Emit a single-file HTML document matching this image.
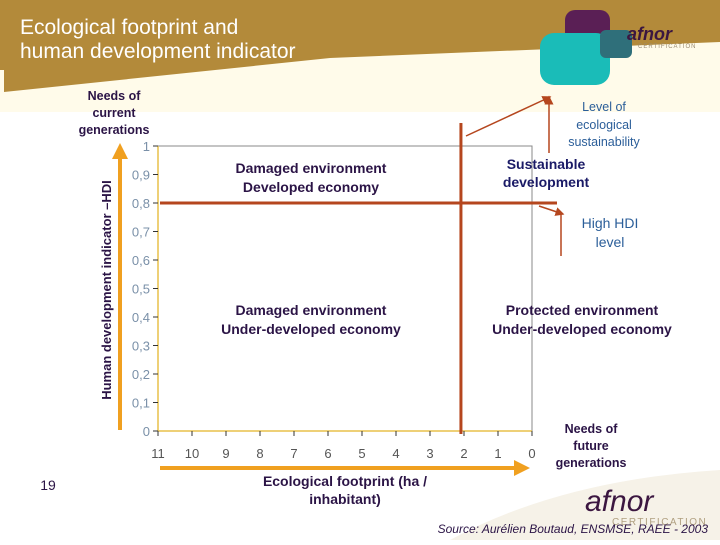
<!DOCTYPE html>
<html><head><meta charset="utf-8"><style>
body{margin:0;width:720px;height:540px;overflow:hidden;background:#fff;font-family:"Liberation Sans",sans-serif}
svg text{font-family:"Liberation Sans",sans-serif}
</style></head><body>
<svg width="720" height="540" viewBox="0 0 720 540" xmlns="http://www.w3.org/2000/svg">
<rect width="720" height="540" fill="#ffffff"/>
<rect width="720" height="112" fill="#fffbea"/>
<path d="M450 540 Q560 480 720 470 L720 540 Z" fill="#f6f2e8"/>
<path d="M0 0 H720 V42 L330 58 L4 92 L4 70 L0 70 Z" fill="#b38a3a"/>
<text x="20" y="34" font-size="21" fill="#fff">Ecological footprint and</text>
<text x="20" y="58" font-size="21" fill="#fff">human development indicator</text>
<g>
<rect x="565" y="10" width="45" height="38" rx="10" fill="#5a1f55"/>
<rect x="540" y="33" width="70" height="52" rx="14" fill="#1abcb8"/>
<rect x="600" y="30" width="32" height="28" rx="6" fill="#2f6f7a"/>
<text x="627" y="40" font-size="18" fill="#3b1640" font-style="italic" font-weight="bold">afnor</text>
<text x="638" y="48" font-size="6" fill="#9a8a70" letter-spacing="1">CERTIFICATION</text>
</g>
<g font-size="12.5" font-weight="bold" fill="#2b1446" text-anchor="middle">
<text x="114" y="100">Needs of</text><text x="114" y="117">current</text><text x="114" y="134">generations</text></g>
<g font-size="12.5" fill="#2b5e99" text-anchor="middle">
<text x="604" y="111">Level of</text><text x="604" y="129">ecological</text><text x="604" y="146">sustainability</text></g>
<text x="111" y="290" font-size="13" font-weight="bold" fill="#2b1446" text-anchor="middle" transform="rotate(-90 111 290)">Human development indicator –HDI</text>
<g id="chart"></g>
<g font-size="14" font-weight="bold" fill="#2b1446" text-anchor="middle">
<text x="345" y="486">Ecological footprint (ha /</text><text x="345" y="504">inhabitant)</text></g>
<g font-size="12.5" font-weight="bold" fill="#2b1446" text-anchor="middle">
<text x="591" y="433">Needs of</text><text x="591" y="450">future</text><text x="591" y="467">generations</text></g>
<text x="48" y="490" font-size="14" fill="#2b1446" text-anchor="middle">19</text>
<g>
<text x="585" y="511" font-size="30" fill="#3b1640" font-style="italic">afnor</text>
<text x="612" y="525" font-size="10" fill="#b0a080" letter-spacing="1.5">CERTIFICATION</text></g>
<text x="708" y="533" font-size="12" font-style="italic" fill="#2b1446" text-anchor="end">Source: Aurélien Boutaud, ENSMSE, RAEE - 2003</text>
</svg>
<script>
const xTicks=[11,10,9,8,7,6,5,4,3,2,1,0];
const yTicks=[0,0.1,0.2,0.3,0.4,0.5,0.6,0.7,0.8,0.9,1];
const yTickLabels=["0","0,1","0,2","0,3","0,4","0,5","0,6","0,7","0,8","0,9","1"];
const thresholdFootprint=[2.09];
const thresholdHDI=[0.8];
const quadrantTexts=[["Damaged environment","Developed economy",6.5,0.885],["Damaged environment","Under-developed economy",6.5,0.386],["Protected environment","Under-developed economy",-1.47,0.386]];
const NS="http://www.w3.org/2000/svg";
const g=document.getElementById('chart');
const X0=158,X1=532,Y0=431,Y1=146;
const xs=v=>X0+(11-v)/11*(X1-X0);
const ys=v=>Y0-v*(Y0-Y1);
function mk(t,a,p){const e=document.createElementNS(NS,t);for(const k in a)e.setAttribute(k,a[k]);(p||g).appendChild(e);return e;}
let e;
e=mk('rect',{x:X0,y:Y1,width:X1-X0,height:Y0-Y1,fill:'none',stroke:'#888','stroke-width':1});


e=mk('line',{x1:X0,y1:Y1,x2:X0,y2:Y0,stroke:'#e8c04a','stroke-width':1.5});


e=mk('line',{x1:X0,y1:Y0,x2:X1,y2:Y0,stroke:'#e8c04a','stroke-width':1.5});


yTicks.forEach((v,i)=>{
 e=mk('line',{x1:X0-5,y1:ys(v),x2:X0,y2:ys(v),stroke:'#333'});
 
 
 e=mk('text',{x:X0-8,y:ys(v)+5,'font-size':13,fill:'#7a90a8','text-anchor':'end'});
 e.textContent=yTickLabels[i];
 
 
});
xTicks.forEach(v=>{
 e=mk('line',{x1:xs(v),y1:Y0,x2:xs(v),y2:Y0+5,stroke:'#333'});
 
 
 e=mk('text',{x:xs(v),y:Y0+27,'font-size':13,fill:'#555','text-anchor':'middle'});
 e.textContent=v;
 
 
});
const vx=xs(thresholdFootprint[0]),hy=ys(thresholdHDI[0]);
e=mk('line',{x1:vx,y1:123,x2:vx,y2:Y0+3,stroke:'#b5461e','stroke-width':3});


e=mk('line',{x1:X0+2,y1:hy,x2:557,y2:hy,stroke:'#b5461e','stroke-width':3});


const defs=mk('defs',{});
const m=mk('marker',{id:'ah',markerWidth:6,markerHeight:6,refX:5,refY:3,orient:'auto'},defs);
mk('path',{d:'M0,0 L6,3 L0,6 Z',fill:'#b5461e'},m);
const mo=mk('marker',{id:'ao',markerWidth:4,markerHeight:4,refX:3,refY:2,orient:'auto'},defs);
mk('path',{d:'M0,0 L4,2 L0,4 Z',fill:'#f0a020'},mo);
[[466,136,550,97],[549,153,549,97],[539,206,563,214]].forEach(a=>{
 e=mk('line',{x1:a[0],y1:a[1],x2:a[2],y2:a[3],stroke:'#b5461e','stroke-width':1.5,'marker-end':'url(#ah)'});
 
 
});
e=mk('line',{x1:561,y1:214,x2:561,y2:256,stroke:'#b5461e','stroke-width':1.5});


e=mk('line',{x1:120,y1:430,x2:120,y2:147,stroke:'#f0a020','stroke-width':4,'marker-end':'url(#ao)'});


e=mk('line',{x1:160,y1:468,x2:526,y2:468,stroke:'#f0a020','stroke-width':4,'marker-end':'url(#ao)'});


quadrantTexts.forEach(q=>{
 e=mk('text',{x:xs(q[2]),y:ys(q[3])-6,'font-size':14,'font-weight':'bold',fill:'#2b1446','text-anchor':'middle'});
 e.textContent=q[0];
 
 
 e=mk('text',{x:xs(q[2]),y:ys(q[3])+13,'font-size':14,'font-weight':'bold',fill:'#2b1446','text-anchor':'middle'});
 e.textContent=q[1];
 
 
});
e=mk('text',{x:546,y:169,'font-size':14,'font-weight':'bold',fill:'#1a1a66','text-anchor':'middle'});e.textContent='Sustainable';


e=mk('text',{x:546,y:187,'font-size':14,'font-weight':'bold',fill:'#1a1a66','text-anchor':'middle'});e.textContent='development';


e=mk('text',{x:610,y:228,'font-size':14,fill:'#2b5e99','text-anchor':'middle'});e.textContent='High HDI';


e=mk('text',{x:610,y:247,'font-size':14,fill:'#2b5e99','text-anchor':'middle'});e.textContent='level';


</script>
</body></html>
